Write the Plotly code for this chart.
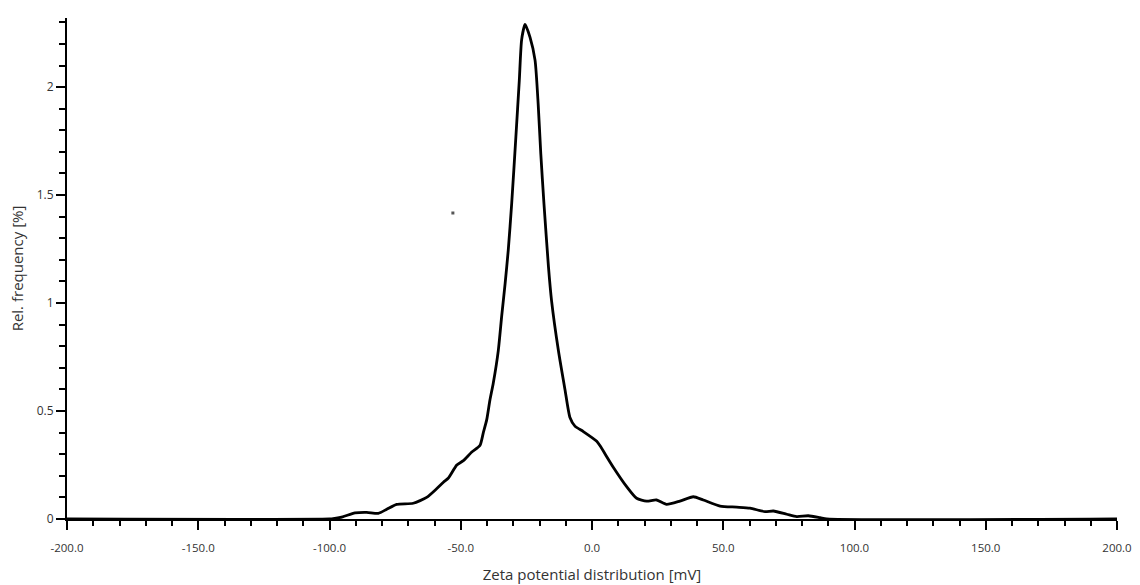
import plotly.graph_objects as go

# Zeta potential (mV) and relative frequency (%)
zeta_mv = [-200, -100, -98, -95, -90.3, -85.8, -81.4, -78.2, -74.4, -68.1, -63.0,
           -59.2, -56.6, -54.7, -51.5, -49.0, -45.8, -42.7, -41.4, -40.1, -38.9,
           -37.6, -35.7, -34.4, -33.1, -31.9, -30.6, -29.0, -27.7, -26.8, -25.5,
           -23.6, -21.7, -20.5, -19.5, -18.3, -16.6, -15.4, -12.8, -10.3, -8.4,
           -6.5, -3.3, 1.8, 3.0, 8.1, 13.2, 17.0, 20.8, 24.6, 28.4, 33.5, 38.6,
           42.4, 48.8, 55.1, 60.2, 65.9, 69.1, 74.2, 78.0, 82.4, 86.9, 89.4, 200]
rel_freq = [0, 0, 0.003, 0.01, 0.028, 0.031, 0.026, 0.045, 0.068, 0.073, 0.10,
            0.14, 0.17, 0.19, 0.25, 0.27, 0.31, 0.34, 0.40, 0.46, 0.55,
            0.63, 0.78, 0.94, 1.09, 1.245, 1.46, 1.77, 2.03, 2.22, 2.29,
            2.23, 2.125, 1.92, 1.69, 1.46, 1.17, 1.01, 0.78, 0.60, 0.47,
            0.43, 0.405, 0.36, 0.34, 0.24, 0.15, 0.096, 0.083, 0.088, 0.068, 0.083, 0.103,
            0.088, 0.06, 0.055, 0.05, 0.034, 0.037, 0.022, 0.011, 0.015, 0.006, 0, 0]

# stray point visible in the reference
stray_x = [-53.0]
stray_y = [1.417]

x_ticks = [-200, -150, -100, -50, 0, 50, 100, 150, 200]
x_tick_labels = ["-200.0", "-150.0", "-100.0", "-50.0", "0.0", "50.0", "100.0", "150.0", "200.0"]
y_ticks = [0, 0.5, 1, 1.5, 2]
y_tick_labels = ["0", "0.5", "1", "1.5", "2"]

fig = go.Figure()
fig.add_trace(go.Scatter(x=zeta_mv, y=rel_freq, mode="lines",
                         line=dict(color="black", width=2.8, shape="spline", smoothing=0.6),
                         showlegend=False, hoverinfo="x+y"))
fig.add_trace(go.Scatter(x=stray_x, y=stray_y, mode="markers",
                         marker=dict(color="#555555", size=3, symbol="square"),
                         showlegend=False))

font_family = "Open Sans, Noto Sans, sans-serif"
fig.update_layout(
    width=1140, height=585,
    margin=dict(l=67, r=23, t=18, b=66),
    paper_bgcolor="white", plot_bgcolor="white",
    font=dict(family=font_family, color="#333333"),
    xaxis=dict(
        range=[-200, 200], tickvals=x_ticks, ticktext=x_tick_labels, automargin=False,
        showgrid=False, zeroline=False, showline=True, linecolor="black", linewidth=2,
        ticks="outside", ticklen=9, tickwidth=1.5, tickcolor="black",
        tickfont=dict(size=11.5, color="#333333"), ticklabelstandoff=8,
        minor=dict(dtick=10, ticks="outside", ticklen=5, tickwidth=1.5, tickcolor="black"),
        title=dict(text="Zeta potential distribution [mV]", font=dict(size=15, color="#333333"), standoff=16),
    ),
    yaxis=dict(
        range=[0, 2.32], tickvals=y_ticks, ticktext=y_tick_labels, automargin=False,
        showgrid=False, zeroline=False, showline=True, linecolor="black", linewidth=2,
        ticks="outside", ticklen=9, tickwidth=1.5, tickcolor="black",
        tickfont=dict(size=12, color="#333333"),
        minor=dict(dtick=0.1, ticks="outside", ticklen=6, tickwidth=1.5, tickcolor="black"),
        title=dict(text="Rel. frequency [%]", font=dict(size=15, color="#333333"), standoff=9),
    ),
)

fig.write_html("out.html")
